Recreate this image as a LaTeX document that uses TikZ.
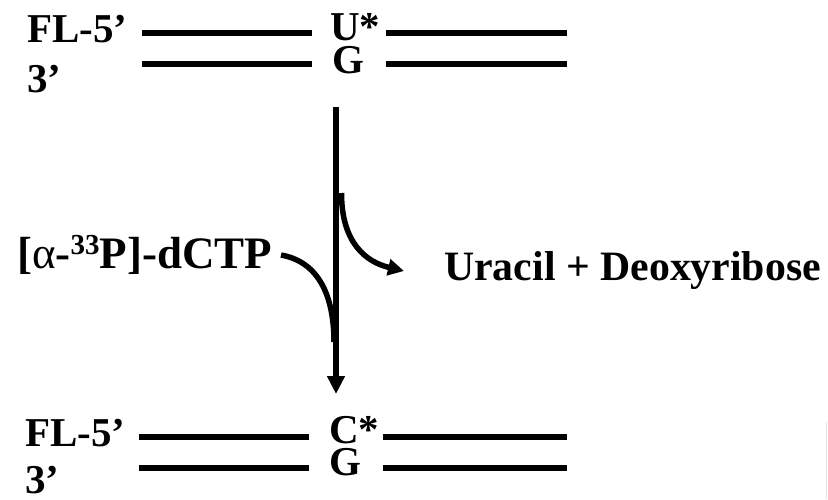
\documentclass[tikz,border=0pt]{standalone}
\usepackage{fontspec}
\setmainfont{Liberation Serif}
\usetikzlibrary{arrows.meta}
\begin{document}
\begin{tikzpicture}[x=1pt,y=-1pt,
  lbl/.style={inner sep=0pt, anchor=base west,
              font=\fontsize{41}{41}\selectfont\bfseries},
  biglbl/.style={lbl, font=\fontsize{45}{45}\selectfont\bfseries},
  prodlbl/.style={lbl, font=\fontsize{41.8}{42}\selectfont\bfseries},
  strand/.style={line width=6pt},
  flow/.style={line width=5.5pt},
  bigtip/.style={-{Triangle[width=17pt,length=18pt]}},
  sidetip/.style={-{Triangle[width=16pt,length=16pt]}}]

\useasboundingbox (0,0) rectangle (828,499);

% ---- upper duplex: labelled U/G pair ----
\node[lbl] (flTop)    at (27,42)  {FL-5’};
\node[lbl] (threeTop) at (27,92)  {3’};
\node[lbl] (uStar)    at (330,40) {U*};
\node[lbl] (gTop)     at (332,73) {G};

\coordinate (tAL) at (142,33);  \coordinate (tAR) at (312,33);
\coordinate (tBL) at (386,33);  \coordinate (tBR) at (567,33);
\coordinate (tCL) at (142,64);  \coordinate (tCR) at (312,64);
\coordinate (tDL) at (386,64);  \coordinate (tDR) at (567,64);
\draw[strand] (tAL) -- (tAR);
\draw[strand] (tBL) -- (tBR);
\draw[strand] (tCL) -- (tCR);
\draw[strand] (tDL) -- (tDR);

% ---- lower duplex: labelled C/G pair ----
\node[lbl] (flBot)    at (25,446)  {FL-5’};
\node[lbl] (threeBot) at (25,493)  {3’};
\node[lbl] (cStar)    at (329,443) {C*};
\node[lbl] (gBot)     at (329,475) {G};

\coordinate (bAL) at (139,437); \coordinate (bAR) at (309,437);
\coordinate (bBL) at (383,437); \coordinate (bBR) at (567,437);
\coordinate (bCL) at (139,468); \coordinate (bCR) at (309,468);
\coordinate (bDL) at (383,468); \coordinate (bDR) at (567,468);
\draw[strand] (bAL) -- (bAR);
\draw[strand] (bBL) -- (bBR);
\draw[strand] (bCL) -- (bCR);
\draw[strand] (bDL) -- (bDR);

% ---- reaction side labels ----
\node[biglbl] (dctp) at (17,268)
  {[{\mdseries α}-\raisebox{14pt}{\fontsize{29}{29}\selectfont 33}P]-dCTP};
\node[prodlbl] (products) at (444,280) {Uracil + Deoxyribose};

% ---- reaction arrows ----
\coordinate (vStart) at (336,107);
\coordinate (vEnd)   at (336,394);
\draw[flow, bigtip] (vStart) -- (vEnd);

\coordinate (outStart) at (341.5,193);
\coordinate (outEnd)   at (404,271);
\draw[flow, sidetip] (outStart)
  .. controls (341.5,243) and (366,262) .. (outEnd);

\coordinate (inStart) at (281,255);
\coordinate (inEnd)   at (334,342);
\draw[flow] (inStart)
  .. controls (320,262) and (334,298) .. (inEnd);

% faint edge rule at the lower right
\coordinate (edgeTop) at (826.5,422);
\coordinate (edgeBot) at (826.5,499);
\draw[black!10, line width=1pt] (edgeTop) -- (edgeBot);

\end{tikzpicture}
\end{document}
